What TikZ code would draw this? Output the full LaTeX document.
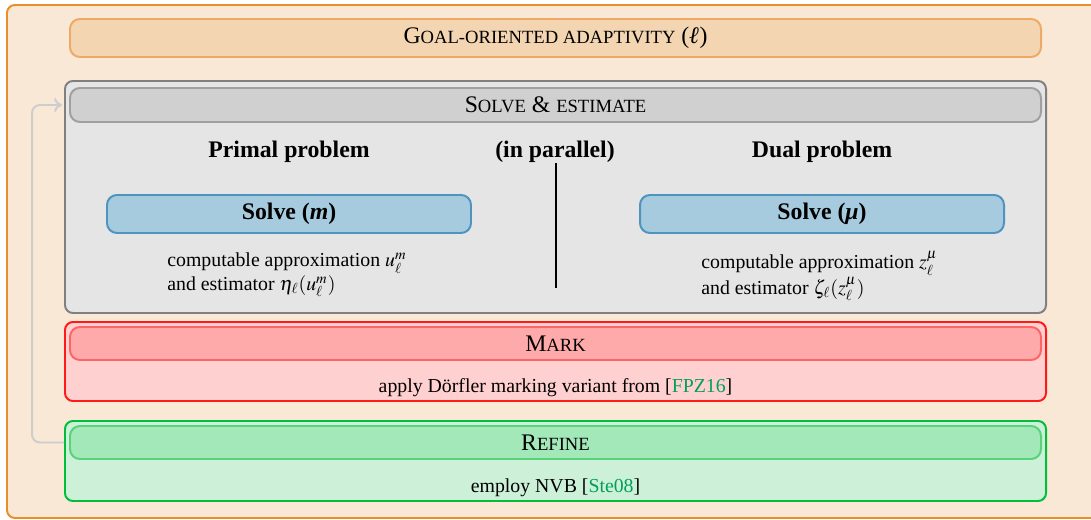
\documentclass[tikz,border=0pt]{standalone}
\usepackage{mathptmx}
\usepackage{fontspec}
\setmainfont{Liberation Serif}
\usetikzlibrary{arrows.meta}
\definecolor{orangeB}{RGB}{232,142,42}
\definecolor{orangeF}{RGB}{250,232,214}
\definecolor{titleF}{RGB}{243,213,178}
\definecolor{titleB}{RGB}{238,170,100}
\definecolor{grayB}{RGB}{128,128,128}
\definecolor{grayF}{RGB}{229,229,229}
\definecolor{grayHF}{RGB}{208,208,208}
\definecolor{grayHB}{RGB}{160,160,160}
\definecolor{blueF}{RGB}{166,202,222}
\definecolor{blueB}{RGB}{78,148,190}
\definecolor{redB}{RGB}{255,25,25}
\definecolor{redF}{RGB}{255,208,208}
\definecolor{redHF}{RGB}{255,170,170}
\definecolor{redHB}{RGB}{255,100,100}
\definecolor{greenB}{RGB}{0,190,60}
\definecolor{greenF}{RGB}{204,240,216}
\definecolor{greenHF}{RGB}{163,232,184}
\definecolor{greenHB}{RGB}{90,210,120}
\definecolor{linkG}{RGB}{0,160,90}
\definecolor{fbG}{RGB}{205,205,205}
\newcommand\pxu{0.505pt}
\newcommand\fakesc[2]{#1{\fontsize{9.4}{11}\selectfont\MakeUppercase{#2}}}
\begin{document}
\begin{tikzpicture}[x=0.505pt,y=-0.505pt,
  box/.style={rounded corners=4pt, inner sep=0pt, line width=1pt},
  hbox/.style={rounded corners=5pt, inner sep=0pt, line width=1pt, font=\large},
  lbl/.style={inner sep=0pt, align=center},
  body/.style={inner sep=0pt, align=left, anchor=west},
  fb/.style={draw=fbG, line width=1pt, rounded corners=4pt, -{To[length=4pt,width=7pt]}}]
\useasboundingbox (0,0) rectangle (1091,520);
% outer
\node[box, draw=orangeB, fill=orangeF, minimum width=1100*\pxu, minimum height=513*\pxu] (outer) at (557,261.5) {};
\node[hbox, draw=titleB, fill=titleF, minimum width=971*\pxu, minimum height=38*\pxu] (title) at (555.5,38)
  {\fakesc{G}{oal-oriented adaptivity} (\textbf{\textit{ℓ}})};
% solve & estimate
\node[box, draw=grayB, fill=grayF, minimum width=981*\pxu, minimum height=232*\pxu] (solve) at (555.5,197) {};
\node[hbox, draw=grayHB, fill=grayHF, minimum width=971*\pxu, minimum height=34*\pxu] (solvehead) at (555.5,105)
  {\fakesc{S}{olve} \& \fakesc{}{estimate}};
\node[lbl, font=\large\bfseries] (primal) at (289,152) {Primal problem};
\node[lbl, font=\large\bfseries] (par) at (555,152) {(in parallel)};
\node[lbl, font=\large\bfseries] (dual) at (822,152) {Dual problem};
\coordinate (vtop) at (556,163);
\coordinate (vbot) at (556,288);
\draw[line width=1.2pt] (vtop) -- (vbot);
\node[hbox, draw=blueB, fill=blueF, minimum width=364*\pxu, minimum height=38*\pxu, font=\large\bfseries] (solvem) at (289,214)
  {\raisebox{-1pt}{Solve (\textit{m})}};
\node[hbox, draw=blueB, fill=blueF, minimum width=364*\pxu, minimum height=38*\pxu, font=\large\bfseries] (solvemu) at (822,214)
  {\raisebox{-1pt}{Solve (\textit{μ})}};
\node[body] (primtxt) at (167,275) {computable approximation $u_\ell^m$\\and estimator $\eta_\ell(u_\ell^m)$};
\node[body] (dualtxt) at (701,276) {computable approximation $z_\ell^\mu$\\and estimator $\zeta_\ell(z_\ell^\mu)$};
% mark
\node[box, draw=redB, fill=redF, minimum width=981*\pxu, minimum height=79*\pxu] (mark) at (555.5,361.5) {};
\node[hbox, draw=redHB, fill=redHF, minimum width=971*\pxu, minimum height=33*\pxu] (markhead) at (555.5,343.5)
  {\fakesc{M}{ark}};
\node[lbl] (marktxt) at (555.5,388) {apply Dörfler marking variant from [\textcolor{linkG}{FPZ16}]};
% refine
\node[box, draw=greenB, fill=greenF, minimum width=981*\pxu, minimum height=80*\pxu] (refine) at (555.5,461) {};
\node[hbox, draw=greenHB, fill=greenHF, minimum width=971*\pxu, minimum height=33*\pxu] (refhead) at (555.5,442.5)
  {\fakesc{R}{efine}};
\node[lbl] (reftxt) at (555.5,488) {employ NVB [\textcolor{linkG}{Ste08}]};
% feedback
\draw[fb] (refhead.center -| refine.west) -- ++(-32,0) |- ([xshift=-1pt]solvehead.center -| solve.west);
\end{tikzpicture}
\end{document}
